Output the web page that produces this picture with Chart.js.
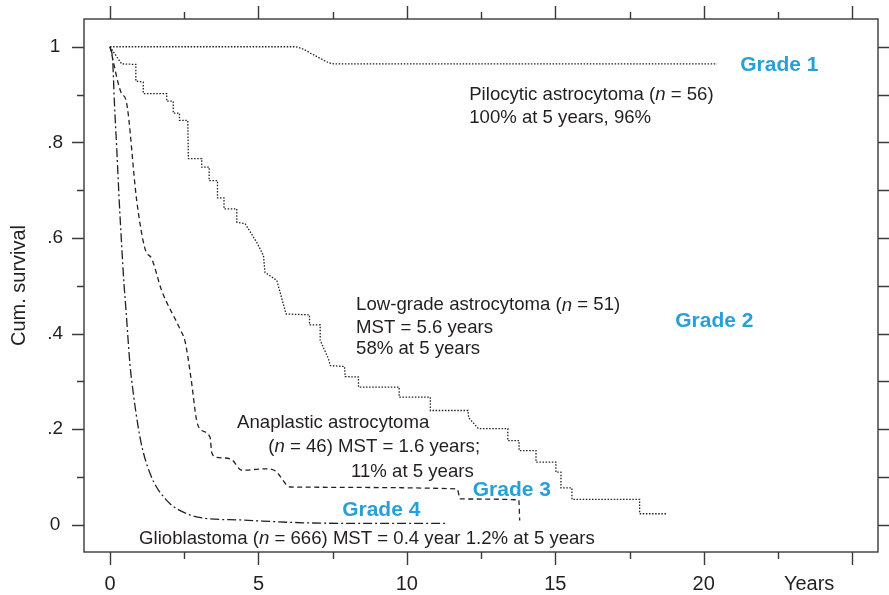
<!DOCTYPE html>
<html>
<head>
<meta charset="utf-8">
<script src="https://cdn.jsdelivr.net/npm/chart.js@4.4.0/dist/chart.umd.min.js"></script>
<style>
  body { margin: 0; background: #fff; }
  canvas { display: block; }
</style>
</head>
<body>
<canvas id="km-chart" width="889" height="595"></canvas>
<script>
/* === DATA === */

// Grade 1 – pilocytic astrocytoma
const grade1Years = [0, 6.2, 6.5, 6.8, 7.1, 7.4, 7.6, 20.45];
const grade1Surv  = [1, 1, 0.995, 0.985, 0.975, 0.966, 0.964, 0.964];

// Grade 2 – low-grade astrocytoma (step curve)
const grade2Years = [0, 0.39, 0.87, 0.87, 1.12, 1.12, 1.91, 1.91, 2.13, 2.13,
    2.34, 2.34, 2.62, 2.64, 3.09, 3.09, 3.34, 3.34, 3.62, 3.62,
    3.84, 3.84, 4.27, 4.27, 4.55, 4.94, 5.17, 5.22, 5.62, 5.93,
    6.72, 6.72, 7.08, 7.08, 7.36, 7.42, 7.90, 7.92, 8.37, 8.37,
    9.74, 9.74, 10.79, 10.79, 12.06, 12.08, 12.41, 13.40, 13.40, 13.78,
    13.78, 14.35, 14.35, 15.02, 15.02, 15.19, 15.19, 15.56, 15.56, 17.84,
    17.84, 18.76];
const grade2Surv = [1, 0.964, 0.963, 0.928, 0.926, 0.902, 0.902, 0.886, 0.886, 0.861,
    0.861, 0.846, 0.846, 0.766, 0.766, 0.748, 0.748, 0.720, 0.720, 0.684,
    0.684, 0.661, 0.661, 0.633, 0.630, 0.591, 0.563, 0.528, 0.511, 0.441,
    0.439, 0.418, 0.418, 0.386, 0.347, 0.333, 0.331, 0.310, 0.309, 0.288,
    0.288, 0.267, 0.267, 0.239, 0.239, 0.224, 0.201, 0.201, 0.176, 0.176,
    0.155, 0.155, 0.131, 0.131, 0.110, 0.110, 0.077, 0.077, 0.053, 0.053,
    0.023, 0.023];

// Grade 3 – anaplastic astrocytoma
const grade3Years = [0, 0.39, 0.54, 0.90, 1.18, 1.41, 1.74, 2.36, 2.53, 2.73, 2.92, 3.09,
    3.37, 3.43, 3.60, 4.08, 4.44, 5.22, 5.56, 6.07, 11.69, 11.80, 13.77, 13.80];
const grade3Surv = [1, 0.902, 0.888, 0.678, 0.577, 0.556, 0.490, 0.409, 0.383, 0.306, 0.218, 0.197,
    0.183, 0.150, 0.141, 0.137, 0.114, 0.117, 0.113, 0.079, 0.075, 0.054, 0.052, 0.009];

// Grade 4 – glioblastoma
const grade4Years = [0, 0.09, 0.145, 0.23, 0.31, 0.39, 0.47, 0.54, 0.67, 0.73, 1.01,
    1.35, 1.91, 2.59, 3.26, 4.38, 6.07, 7.75, 11.29];
const grade4Surv = [1, 0.971, 0.888, 0.783, 0.678, 0.588, 0.505, 0.448, 0.337, 0.302, 0.183,
    0.107, 0.051, 0.023, 0.013, 0.010, 0.005, 0.003, 0.003];

// tick labels
const xTickValues = [0, 5, 10, 15, 20];
const xUnitLabel = 'Years';
const xUnitAt = 23.55;
const yTickValues = [0, 0.2, 0.4, 0.6, 0.8, 1];
const yTickLabels = ['0', '.2', '.4', '.6', '.8', '1'];

/* === ANNOTATIONS (text placed in data units, *x marks italic) === */
const INK = '#231f20';
const BLUE = '#27a0da';
const notes = [
    { x: 21.23, y: 0.961, text: ['Grade 1'], grade: true },
    { x: 12.10, y: 0.900, text: ['Pilocytic astrocytoma (', '*n', ' = 56)'] },
    { x: 12.10, y: 0.852, text: ['100% at 5 years, 96%'] },
    { x: 8.29, y: 0.459, text: ['Low-grade astrocytoma (', '*n', ' = 51)'] },
    { x: 8.29, y: 0.411, text: ['MST = 5.6 years'] },
    { x: 8.29, y: 0.367, text: ['58% at 5 years'] },
    { x: 19.04, y: 0.426, text: ['Grade 2'], grade: true },
    { x: 4.28, y: 0.214, text: ['Anaplastic astrocytoma'] },
    { x: 5.33, y: 0.162, text: ['(', '*n', ' = 46) MST = 1.6 years;'] },
    { x: 8.12, y: 0.110, text: ['11% at 5 years'] },
    { x: 12.22, y: 0.072, text: ['Grade 3'], grade: true },
    { x: 7.82, y: 0.030, text: ['Grade 4'], grade: true },
    { x: 0.98, y: -0.029, text: ['Glioblastoma (', '*n', ' = 666) MST = 0.4 year 1.2% at 5 years'] }
];

const FONT = '"Liberation Sans", Arial, Helvetica, sans-serif';

function toPoints(xs, ys) {
    return xs.map((v, i) => ({ x: v, y: ys[i] }));
}

// frame, tick marks and the text inside the plot
const framePlugin = {
    id: 'framePlugin',
    afterDraw(chart) {
        const { ctx, chartArea: a, scales: { x, y } } = chart;
        ctx.save();
        ctx.strokeStyle = '#3a3a3a';
        ctx.lineWidth = 1.4;
        ctx.strokeRect(a.left, a.top, a.right - a.left, a.bottom - a.top);

        ctx.beginPath();
        for (let i = 0; i <= 10; i++) {
            const v = i * 2.5;
            const px = Math.round(x.getPixelForValue(v)) + 0.5;
            const len = i % 2 === 0 ? 13 : 7;
            ctx.moveTo(px, a.bottom); ctx.lineTo(px, a.bottom + len);
            ctx.moveTo(px, a.top); ctx.lineTo(px, a.top - len);
        }
        for (let i = 0; i <= 10; i++) {
            const py = Math.round(y.getPixelForValue(i / 10)) + 0.5;
            const len = i % 2 === 0 ? 12 : 7;
            ctx.moveTo(a.left, py); ctx.lineTo(a.left - len, py);
            ctx.moveTo(a.right, py); ctx.lineTo(a.right + 14, py);
        }
        ctx.stroke();

        // "Years" sits in the tick-label row
        ctx.fillStyle = INK;
        ctx.font = `20px ${FONT}`;
        ctx.textAlign = 'center';
        ctx.textBaseline = 'middle';
        ctx.fillText(xUnitLabel, x.getPixelForValue(xUnitAt), 584);

        ctx.textAlign = 'left';
        for (const note of notes) {
            let px = x.getPixelForValue(note.x);
            const py = y.getPixelForValue(note.y);
            for (const part of note.text) {
                let str = part;
                if (note.grade) {
                    ctx.font = `bold 21px ${FONT}`;
                    ctx.fillStyle = BLUE;
                } else if (part.startsWith('*')) {
                    str = part.slice(1);
                    ctx.font = `italic 18.6px ${FONT}`;
                    ctx.fillStyle = INK;
                } else {
                    ctx.font = `18.6px ${FONT}`;
                    ctx.fillStyle = INK;
                }
                ctx.fillText(str, px, py);
                px += ctx.measureText(str).width;
            }
        }
        ctx.restore();
    }
};

const lineBase = {
    borderColor: '#222',
    borderWidth: 1.3,
    pointRadius: 0,
    fill: false
};

new Chart(document.getElementById('km-chart'), {
    type: 'line',
    data: {
        datasets: [
            { ...lineBase, label: 'Grade 1', data: toPoints(grade1Years, grade1Surv),
              borderDash: [1.5, 1.6], cubicInterpolationMode: 'monotone' },
            { ...lineBase, label: 'Grade 2', data: toPoints(grade2Years, grade2Surv),
              borderDash: [1.5, 1.6], tension: 0 },
            { ...lineBase, label: 'Grade 3', data: toPoints(grade3Years, grade3Surv),
              borderDash: [5, 3.5], cubicInterpolationMode: 'monotone' },
            { ...lineBase, label: 'Grade 4', data: toPoints(grade4Years, grade4Surv),
              borderDash: [9, 3, 2, 3], cubicInterpolationMode: 'monotone' }
        ]
    },
    options: {
        responsive: false,
        animation: false,
        layout: { padding: { top: 19, right: 11, left: 0, bottom: 0 } },
        plugins: { legend: { display: false }, tooltip: { enabled: false } },
        scales: {
            x: {
                type: 'linear',
                min: -0.876,
                max: 25.87,
                grid: { display: false, drawTicks: false },
                border: { display: false },
                afterBuildTicks: (scale) => { scale.ticks = xTickValues.map(v => ({ value: v })); },
                afterFit: (scale) => {
                    scale.height = 43;
                    scale.paddingLeft = 0;
                    scale.paddingRight = 0;
                },
                ticks: {
                    autoSkip: false,
                    maxRotation: 0,
                    padding: 20,
                    color: INK,
                    font: { family: FONT, size: 20 },
                    callback: (v) => String(v)
                }
            },
            y: {
                type: 'linear',
                min: -0.057,
                max: 1.058,
                grid: { display: false, drawTicks: false },
                border: { display: false },
                afterBuildTicks: (scale) => { scale.ticks = yTickValues.map(v => ({ value: v })); },
                afterFit: (scale) => {
                    scale.width = 84;
                    scale.paddingTop = 0;
                    scale.paddingBottom = 0;
                },
                title: {
                    display: true,
                    text: 'Cum. survival',
                    color: INK,
                    font: { family: FONT, size: 20 },
                    padding: { top: 7, bottom: 0 }
                },
                ticks: {
                    autoSkip: false,
                    crossAlign: 'center',
                    padding: 21,
                    color: INK,
                    font: { family: FONT, size: 19 },
                    callback: (v) => yTickLabels[yTickValues.indexOf(v)]
                }
            }
        }
    },
    plugins: [framePlugin]
});
</script>
</body>
</html>
